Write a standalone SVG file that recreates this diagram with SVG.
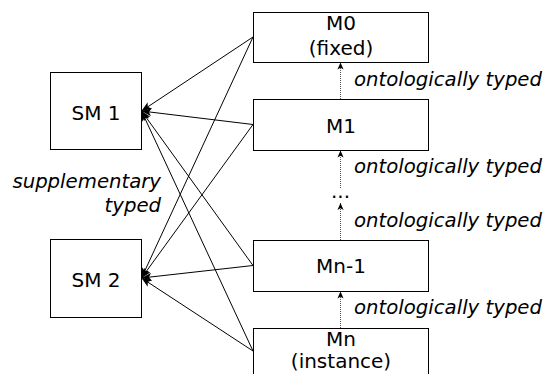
<svg xmlns="http://www.w3.org/2000/svg" width="550" height="374" viewBox="0 0 550 374">
  <style>
    .box { fill: #ffffff; stroke: #000000; stroke-width: 1; }
    .lbl { font-family: "DejaVu Sans", Verdana, sans-serif; font-size: 20px; fill: #000000; text-anchor: middle; }
    .note { font-family: "DejaVu Sans", Verdana, sans-serif; font-size: 19.7px; font-style: italic; fill: #000000; }
    .link { fill: none; stroke: #000000; stroke-width: 1; marker-end: url(#classic); }
    .typed { fill: none; stroke: #555555; stroke-width: 1; stroke-dasharray: 1 1; marker-end: url(#small); }
  </style>
  <defs>
    <marker id="classic" viewBox="0 0 10 8" refX="10" refY="4" markerWidth="10" markerHeight="8" markerUnits="userSpaceOnUse" orient="auto">
      <path d="M0,0 L10,4 L0,8 L2.5,4 Z" fill="#000000"/>
    </marker>
    <marker id="small" viewBox="0 0 8 8" refX="8" refY="4" markerWidth="8" markerHeight="7" markerUnits="userSpaceOnUse" orient="auto">
      <path d="M0,0.5 L8,4 L0,7.5 L2,4 Z" fill="#000000"/>
    </marker>
  </defs>

  <!-- supplementary typing links: every level points at both supplementary models -->
  <g id="connectors">
    <line class="link" x1="253" y1="37" x2="141.5" y2="111"/>
    <line class="link" x1="253" y1="37" x2="141.5" y2="278"/>
    <line class="link" x1="253" y1="124.5" x2="141.5" y2="111"/>
    <line class="link" x1="253" y1="124.5" x2="141.5" y2="278"/>
    <line class="link" x1="253" y1="265.5" x2="141.5" y2="111"/>
    <line class="link" x1="253" y1="265.5" x2="141.5" y2="278"/>
    <line class="link" x1="253" y1="351" x2="141.5" y2="111"/>
    <line class="link" x1="253" y1="351" x2="141.5" y2="278"/>

    <!-- ontological typing chain -->
    <line class="typed" x1="340.5" y1="99" x2="340.5" y2="62.5"/>
    <line class="typed" x1="340.5" y1="188" x2="340.5" y2="150.5"/>
    <line class="typed" x1="340.5" y1="240" x2="340.5" y2="203"/>
    <line class="typed" x1="340.5" y1="328" x2="340.5" y2="291.5"/>
  </g>

  <g id="edge-labels">
    <text class="note" x="354" y="86">ontologically typed</text>
    <text class="note" x="354" y="173">ontologically typed</text>
    <text class="note" x="354" y="227">ontologically typed</text>
    <text class="note" x="354" y="314">ontologically typed</text>
    <text class="note" x="161" y="188" text-anchor="end">supplementary</text>
    <text class="note" x="161" y="212" text-anchor="end">typed</text>
  </g>

  <g id="sm1">
    <rect class="box" x="50.5" y="72.5" width="91" height="77"/>
    <text class="lbl" x="96" y="120">SM 1</text>
  </g>
  <g id="sm2">
    <rect class="box" x="50.5" y="239.5" width="91" height="78"/>
    <text class="lbl" x="96" y="287">SM 2</text>
  </g>

  <g id="m0">
    <rect class="box" x="253.5" y="12.5" width="175" height="50"/>
    <text class="lbl" x="341" y="30">M0</text>
    <text class="lbl" x="341" y="55">(fixed)</text>
  </g>
  <g id="m1">
    <rect class="box" x="253.5" y="99.5" width="175" height="51"/>
    <text class="lbl" x="341" y="133">M1</text>
  </g>
  <g id="ellipsis">
    <text class="lbl" x="340.5" y="198">...</text>
  </g>
  <g id="mn-1">
    <rect class="box" x="253.5" y="240.5" width="175" height="51"/>
    <text class="lbl" x="341" y="273">Mn-1</text>
  </g>
  <g id="mn">
    <rect class="box" x="253.5" y="328.5" width="175" height="50"/>
    <text class="lbl" x="341" y="346">Mn</text>
    <text class="lbl" x="341" y="368">(instance)</text>
  </g>
</svg>
